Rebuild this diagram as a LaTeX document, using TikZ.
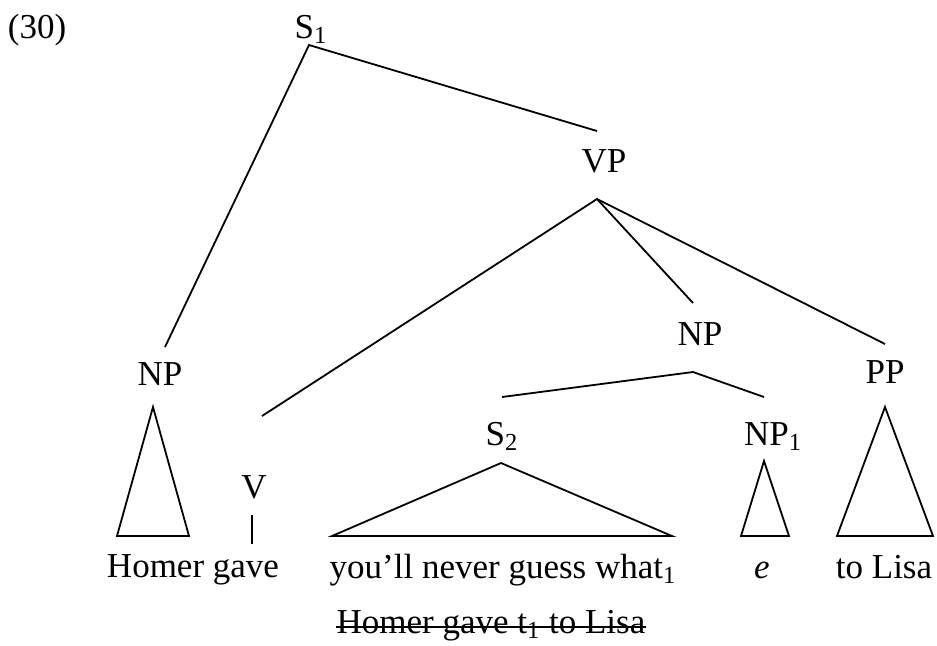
\documentclass[tikz,border=0pt]{standalone}
\usepackage{fontspec}
\setmainfont{Liberation Serif}
\usepackage{tikz}

\begin{document}
\begin{tikzpicture}
            [x=0.5pt,y=-0.5pt,line width=0.9pt,every node/.style={inner sep = 0pt, anchor = base, font = \fontsize{17.5}{21}\selectfont}]

            \useasboundingbox (0,0) rectangle (937,645);

            % labels of the tree
            \node (ex) at (37,38) {(30)};
            \node (sa) at (311,38) {S\textsubscript{1}};
            \node (vp) at (604,172) {VP};
            \node (np) at (700,345) {NP};
            \node (nl) at (160,385) {NP};
            \node (pp) at (885,383) {PP};
            \node (sb) at (502,445) {S\textsubscript{2}};
            \node (na) at (773,445) {NP\textsubscript{1}};
            \node (v) at (254,498) {V};

            % words
            \node (ho) at (193,577) {Homer gave};
            \node (yo) at (503,578) {you'll never guess what\textsubscript{1}};
            \node (e) at (762,578) {\textit{e}};
            \node (li) at (884,578) {to Lisa};
            \node (st) at (491,633) {Homer gave t\textsubscript{1} to Lisa};

            % branch points
            \coordinate (sa-b) at (309,45);
            \coordinate (vp-t) at (597,131);
            \coordinate (vp-b) at (597,199);
            \coordinate (nl-t) at (165,347);
            \coordinate (v-t) at (262,416);
            \coordinate (np-t) at (693,303);
            \coordinate (np-b) at (693,372);
            \coordinate (pp-t) at (885,344);
            \coordinate (sb-t) at (502,397);
            \coordinate (na-t) at (764,397);

            \draw (nl-t) -- (sa-b) -- (vp-t);
            \draw (v-t) -- (vp-b) -- (np-t);
            \draw (vp-b) -- (pp-t);
            \draw (sb-t) -- (np-b) -- (na-t);

            % roofs
            \draw (153,407) -- (117,536) -- (189,536) -- cycle;
            \draw (501,463) -- (332,536) -- (672,536) -- cycle;
            \draw (764,461) -- (741,536) -- (789,536) -- cycle;
            \draw (885,407) -- (837,536) -- (933,536) -- cycle;
            \draw (252,515) -- (252,544);

            % strike out
            \draw ([yshift=3pt]st.base west) -- ([yshift=3pt]st.base east);
        \end{tikzpicture}
\end{document}
